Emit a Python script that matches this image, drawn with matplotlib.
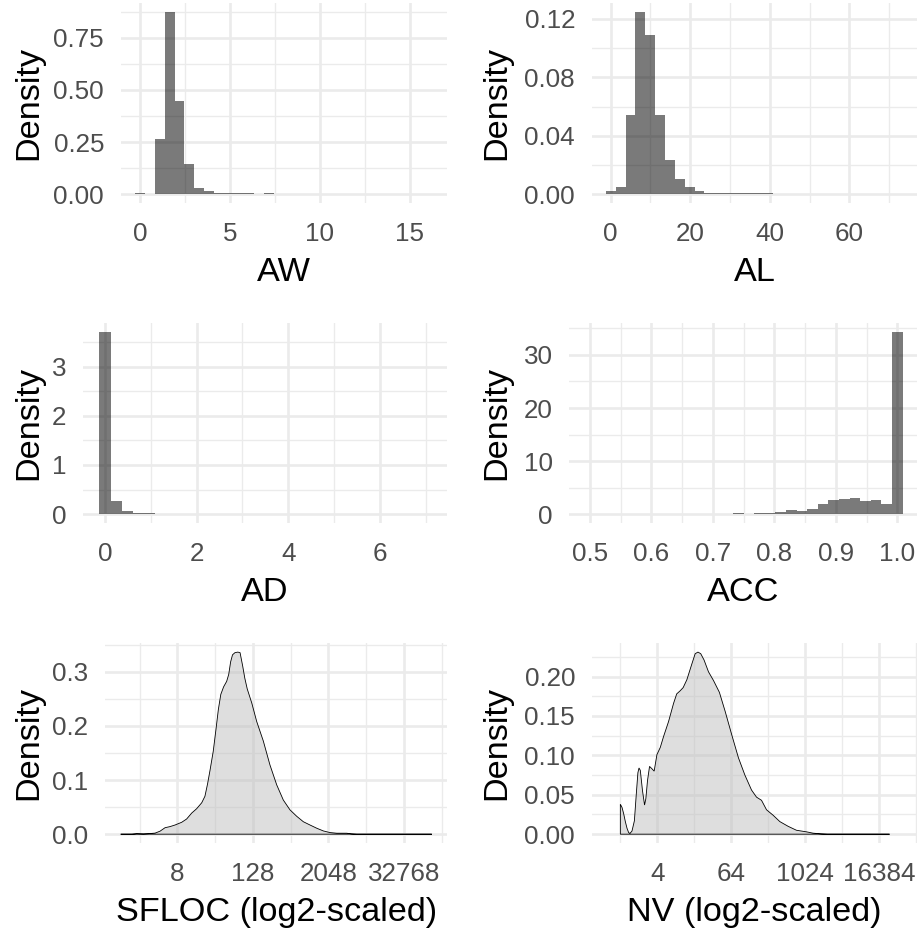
import numpy as np
import matplotlib
matplotlib.use("Agg")
import matplotlib.pyplot as plt
from matplotlib.ticker import FixedLocator, FixedFormatter, NullFormatter

plt.rcParams['font.family'] = ['Liberation Sans', 'DejaVu Sans']

# ---------------- histogram data (density per bin) ----------------
aw_first_center = 0.0
aw_bin_width = 0.5507
aw_density = [0.005, 0.0, 0.263, 0.871, 0.448, 0.143, 0.030, 0.014, 0.006,
              0.004, 0.004, 0.004, 0.0, 0.004]

al_first_center = 0.0
al_bin_width = 2.48
al_density = [0.0020, 0.0052, 0.0540, 0.1245, 0.1090, 0.0544, 0.0231, 0.0102,
              0.0048, 0.0020, 0.0011, 0.0009, 0.0008, 0.0007, 0.0007, 0.0006,
              0.0006]

ad_first_center = 0.0
ad_bin_width = 0.2411
ad_density = [3.70, 0.27, 0.055, 0.02, 0.02]

acc_first_center = 0.5
acc_bin_width = 0.01724
acc_density = [0, 0, 0, 0, 0, 0, 0, 0, 0, 0, 0, 0, 0, 0,
               0.2, 0.0, 0.2, 0.3, 0.4, 0.88, 0.57, 1.07, 2.00, 2.66,
               2.86, 3.00, 2.55, 2.70, 2.00, 34.3]

# ---------------- density curves (log2 position, density) ----------------
sfloc_log2 = [0.00, 0.60, 0.85, 1.20, 1.55, 1.82, 2.08, 2.35, 2.61, 2.88,
              3.23, 3.49, 3.76, 4.02, 4.29, 4.46, 4.60, 4.73, 4.90, 5.05,
              5.17, 5.30, 5.45, 5.61, 5.72, 5.82, 5.92, 6.05, 6.20, 6.32,
              6.46, 6.57, 6.70, 6.94, 7.20, 7.55, 7.90, 8.26, 8.61, 8.96,
              9.32, 9.67, 10.02, 10.38, 10.73, 11.08, 11.44, 11.96, 12.23,
              12.50, 16.47]
sfloc_dens = [0.000, 0.000, 0.001, 0.0005, 0.0012, 0.002, 0.0055, 0.012,
              0.014, 0.017, 0.022, 0.028, 0.039, 0.047, 0.058, 0.070, 0.093,
              0.118, 0.153, 0.195, 0.230, 0.258, 0.272, 0.282, 0.295, 0.318,
              0.331, 0.335, 0.336, 0.335, 0.310, 0.288, 0.268, 0.242, 0.208,
              0.172, 0.128, 0.091, 0.063, 0.045, 0.033, 0.023, 0.017, 0.011,
              0.006, 0.003, 0.0018, 0.0018, 0.0006, 0.0, 0.0]

nv_log2 = [0.00, 0.09, 0.18, 0.27, 0.36, 0.45, 0.52, 0.63, 0.76, 0.86, 0.95,
           1.01, 1.08, 1.20, 1.31, 1.38, 1.47, 1.58, 1.71, 1.83, 1.98, 2.16,
           2.34, 2.61, 2.88, 3.05, 3.24, 3.40, 3.60, 3.87, 4.05, 4.20, 4.35,
           4.53, 4.77, 5.04, 5.36, 5.67, 6.03, 6.39, 6.74, 7.10, 7.37, 7.64,
           7.91, 8.27, 8.63, 9.08, 9.53, 10.07, 10.43, 10.88, 11.20, 14.57]
nv_dens = [0.038, 0.034, 0.026, 0.016, 0.0076, 0.002, 0.001, 0.004, 0.017,
           0.050, 0.078, 0.084, 0.081, 0.055, 0.037, 0.045, 0.068, 0.086,
           0.083, 0.080, 0.101, 0.110, 0.124, 0.143, 0.166, 0.178, 0.182,
           0.186, 0.196, 0.216, 0.229, 0.231, 0.229, 0.221, 0.206, 0.195,
           0.180, 0.156, 0.126, 0.097, 0.075, 0.056, 0.047, 0.043, 0.031,
           0.024, 0.016, 0.010, 0.005, 0.003, 0.0013, 0.0004, 0.0, 0.0]

# ---------------- axis ticks and labels ----------------
aw_xticks, aw_xlabels = [0, 5, 10, 15], ["0", "5", "10", "15"]
aw_yticks, aw_ylabels = [0, 0.25, 0.5, 0.75], ["0.00", "0.25", "0.50", "0.75"]
al_xticks, al_xlabels = [0, 20, 40, 60], ["0", "20", "40", "60"]
al_yticks, al_ylabels = [0, 0.04, 0.08, 0.12], ["0.00", "0.04", "0.08", "0.12"]
ad_xticks, ad_xlabels = [0, 2, 4, 6], ["0", "2", "4", "6"]
ad_yticks, ad_ylabels = [0, 1, 2, 3], ["0", "1", "2", "3"]
acc_xticks = [0.5, 0.6, 0.7, 0.8, 0.9, 1.0]
acc_xlabels = ["0.5", "0.6", "0.7", "0.8", "0.9", "1.0"]
acc_yticks, acc_ylabels = [0, 10, 20, 30], ["0", "10", "20", "30"]
sfloc_xticks, sfloc_xlabels = [8, 128, 2048, 32768], ["8", "128", "2048", "32768"]
sfloc_yticks, sfloc_ylabels = [0, 0.1, 0.2, 0.3], ["0.0", "0.1", "0.2", "0.3"]
nv_xticks, nv_xlabels = [4, 64, 1024, 16384], ["4", "64", "1024", "16384"]
nv_yticks = [0, 0.05, 0.10, 0.15, 0.20]
nv_ylabels = ["0.00", "0.05", "0.10", "0.15", "0.20"]

# ---------------- figure layout (pixel based) ----------------
W, H = 919, 930
fig = plt.figure(figsize=(W / 100, H / 100), dpi=100)
fig.patch.set_facecolor("white")


def rect(l, t, r, b):
    return [l / W, 1 - b / H, (r - l) / W, (b - t) / H]


GRID = "#EBEBEB"
TICK_COLOR = "#4D4D4D"
TICK_SIZE = 18.7
TITLE_SIZE = 24.7
COL_LABEL_X = [13.3, 481.7]
ROW_LABEL_TOP = [256.7, 576.7, 896.7]


def style(ax, xlabel, col, row, xticks, xlabels, xminor, yticks, ylabels, yminor):
    for s in ax.spines.values():
        s.set_visible(False)
    ax.set_facecolor("white")
    ax.set_axisbelow(True)
    ax.xaxis.set_major_locator(FixedLocator(xticks))
    ax.xaxis.set_major_formatter(FixedFormatter(xlabels))
    ax.xaxis.set_minor_locator(FixedLocator(xminor))
    ax.xaxis.set_minor_formatter(NullFormatter())
    ax.yaxis.set_major_locator(FixedLocator(yticks))
    ax.yaxis.set_major_formatter(FixedFormatter(ylabels))
    ax.yaxis.set_minor_locator(FixedLocator(yminor))
    ax.yaxis.set_minor_formatter(NullFormatter())
    ax.grid(True, which="major", color=GRID, linewidth=1.9)
    ax.grid(True, which="minor", color=GRID, linewidth=0.95)
    ax.tick_params(which="both", length=0, colors=TICK_COLOR,
                   labelsize=TICK_SIZE)
    ax.tick_params(axis="x", pad=13.4)
    ax.tick_params(axis="y", pad=12.0)
    ax.set_xlabel(xlabel, fontsize=TITLE_SIZE, color="black")
    ax.set_ylabel("Density", fontsize=TITLE_SIZE, color="black")
    bbox = ax.get_position()
    ax.xaxis.set_label_coords((bbox.x0 + bbox.x1) / 2,
                              1 - ROW_LABEL_TOP[row] / H,
                              transform=fig.transFigure)
    ax.xaxis.label.set_verticalalignment("top")
    ax.yaxis.set_label_coords(COL_LABEL_X[col] / W, (bbox.y0 + bbox.y1) / 2,
                              transform=fig.transFigure)
    ax.yaxis.label.set_verticalalignment("top")


def hist_panel(ax, first_center, width, dens):
    dens = np.asarray(dens, dtype=float)
    edges = first_center - width / 2 + width * np.arange(len(dens) + 1)
    ax.stairs(dens, edges, fill=True, color="black", alpha=0.52,
              linewidth=0)
    top = dens.max()
    ax.set_ylim(-0.05 * top, 1.05 * top)


def density_panel(ax, log2_pos, dens):
    x = np.power(2.0, np.asarray(log2_pos))
    y = np.asarray(dens)
    xs = np.concatenate([[x[0]], x, [x[-1]]])
    ys = np.concatenate([[0.0], y, [0.0]])
    ax.set_xscale("log", base=2)
    ax.fill(xs, ys, facecolor=(0.745, 0.745, 0.745, 0.5),
            edgecolor="black", linewidth=0.6)
    top = y.max()
    ax.set_ylim(-0.05 * top, 1.05 * top)


# AW
ax = fig.add_axes(rect(120.7, 3.3, 447.3, 203.3))
hist_panel(ax, aw_first_center, aw_bin_width, aw_density)
ax.set_xlim(-1.07, 17.1)
style(ax, "AW", 0, 0, aw_xticks, aw_xlabels, [2.5, 7.5, 12.5],
      aw_yticks, aw_ylabels, [0.125, 0.375, 0.625, 0.875])

# AL
ax = fig.add_axes(rect(591.7, 3.3, 917.3, 203.3))
hist_panel(ax, al_first_center, al_bin_width, al_density)
ax.set_xlim(-4.78, 77.1)
style(ax, "AL", 1, 0, al_xticks, al_xlabels, [10, 30, 50, 70],
      al_yticks, al_ylabels, [0.02, 0.06, 0.10])

# AD
ax = fig.add_axes(rect(82.7, 323.0, 447.3, 523.3))
hist_panel(ax, ad_first_center, ad_bin_width, ad_density)
ax.set_xlim(-0.487, 7.47)
style(ax, "AD", 0, 1, ad_xticks, ad_xlabels, [1, 3, 5, 7],
      ad_yticks, ad_ylabels, [0.5, 1.5, 2.5, 3.5])

# ACC
ax = fig.add_axes(rect(569.3, 323.0, 917.3, 523.3))
hist_panel(ax, acc_first_center, acc_bin_width, acc_density)
ax.set_xlim(0.4663, 1.0325)
style(ax, "ACC", 1, 1, acc_xticks, acc_xlabels,
      [0.55, 0.65, 0.75, 0.85, 0.95],
      acc_yticks, acc_ylabels, [5, 15, 25, 35])

# SFLOC
ax = fig.add_axes(rect(105.0, 643.0, 447.3, 843.3))
density_panel(ax, sfloc_log2, sfloc_dens)
ax.set_xlim(2 ** -0.83, 2 ** 17.29)
style(ax, "SFLOC (log2-scaled)", 0, 2, sfloc_xticks, sfloc_xlabels,
      [2, 32, 512, 8192, 131072],
      sfloc_yticks, sfloc_ylabels, [0.05, 0.15, 0.25, 0.35])

# NV
ax = fig.add_axes(rect(591.7, 643.0, 917.3, 843.3))
density_panel(ax, nv_log2, nv_dens)
ax.set_xlim(2 ** -1.55, 2 ** 16.07)
style(ax, "NV (log2-scaled)", 1, 2, nv_xticks, nv_xlabels,
      [1, 16, 256, 4096, 65536],
      nv_yticks, nv_ylabels, [0.025, 0.075, 0.125, 0.175, 0.225])

fig.savefig("out.png", dpi=100, facecolor="white")
